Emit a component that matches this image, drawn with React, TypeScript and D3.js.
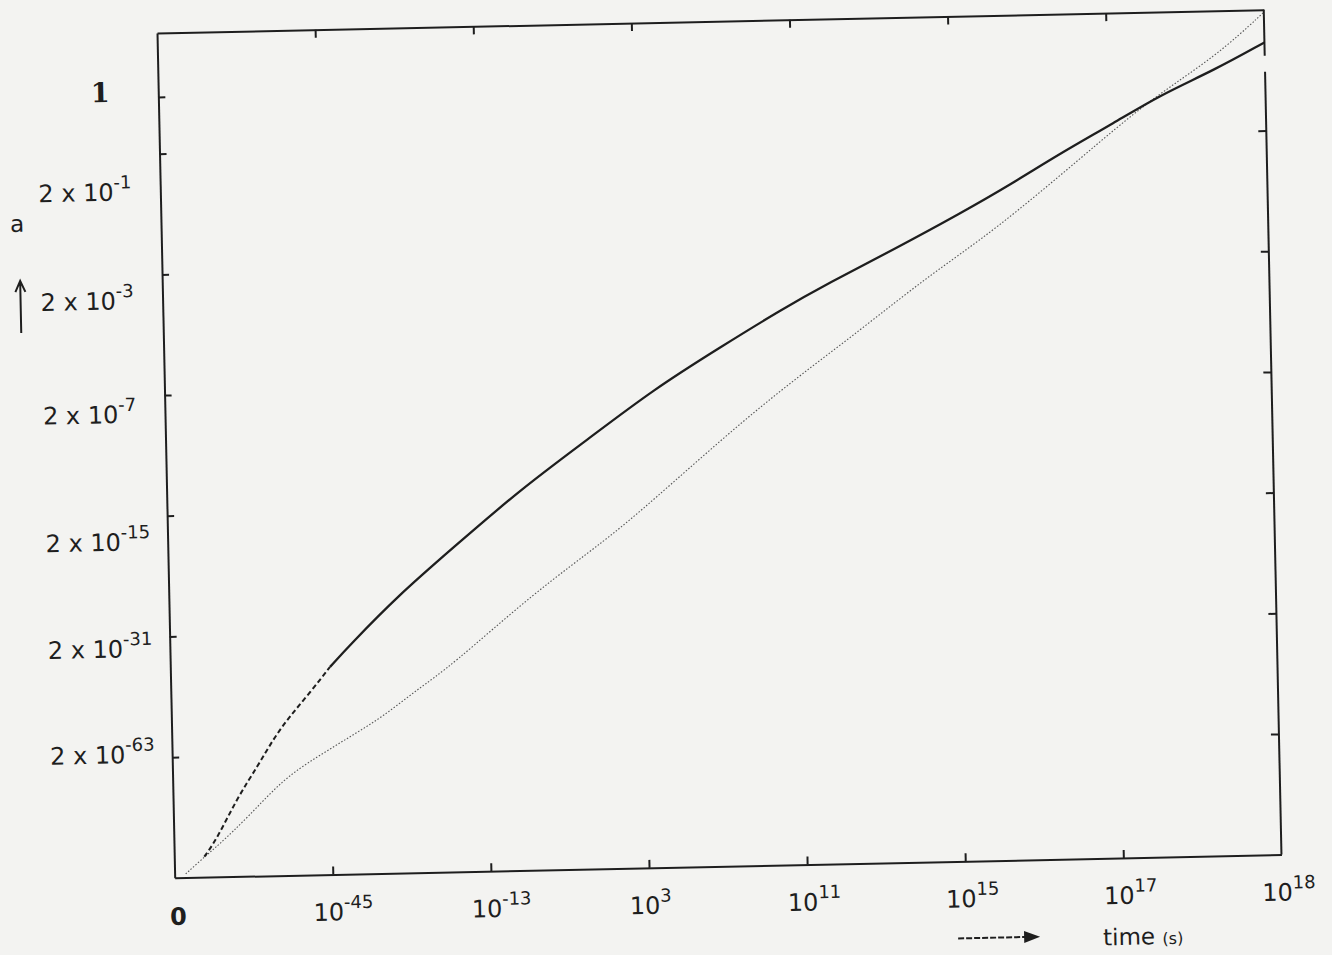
import React, { useEffect, useRef } from "react";
import * as d3 from "d3";

// time axis: "0" at the left edge, then 10^e at equally spaced positions 1..7
const timeExponents = ["-45", "-13", "3", "11", "15", "17", "18"];
// scale factor axis: 2 x 10^e at positions 1..6, "1" a bit above the last one
const aExponents = ["-63", "-31", "-15", "-7", "-3", "-1"];
const aOnePos = 6.47;

// standard evolution (solid curve), in axis units (position along time axis, position along a axis)
const stdTime = [0.19, 0.27, 0.41, 0.54, 0.64, 0.75, 0.88, 1.01, 1.14, 1.46, 1.79, 2.24, 2.67, 3.09, 3.52, 3.91, 4.21, 4.63, 5.06, 5.38, 5.70, 6.04, 6.33, 6.68, 7.0];
const stdA = [0.17, 0.31, 0.66, 0.91, 1.13, 1.32, 1.51, 1.72, 1.90, 2.31, 2.67, 3.16, 3.56, 3.96, 4.30, 4.60, 4.81, 5.08, 5.37, 5.60, 5.85, 6.09, 6.31, 6.51, 6.73];
const stdBrokenUntil = 7; // the early part of the solid curve is printed broken

// coasting evolution (dotted curve)
const linTime = [0.07, 0.21, 0.27, 0.48, 0.70, 0.92, 1.13, 1.34, 1.56, 1.77, 2.31, 2.78, 3.08, 3.51, 3.90, 4.41, 4.84, 5.27, 5.83, 6.26, 6.69, 7.0];
const linA = [0.03, 0.19, 0.25, 0.50, 0.80, 0.98, 1.14, 1.30, 1.52, 1.70, 2.30, 2.73, 3.05, 3.53, 3.94, 4.42, 4.85, 5.22, 5.81, 6.27, 6.62, 6.98];

// layout
const W = 1107;
const H = 845;
const aLabelShift = [5, 20, 34, 27, 34, 46]; // labels sit a little below their ticks in the scan
const ink = "#1e1e1e";
const sans = "'DejaVu Sans', sans-serif";

export default function App() {
  const svgRef = useRef(null);

  useEffect(() => {
    const svgEl = d3.select(svgRef.current);
    svgEl.selectAll("*").remove();

    svgEl.append("rect").attr("width", 1332).attr("height", 955).attr("fill", "#f3f3f1");

    // the scanned page is slightly tilted
    const g = svgEl.append("g").attr("transform", "translate(157,33) rotate(-1.2)");

    const x = d3.scaleLinear().domain([0, 7]).range([0, W]);
    const y = d3.scaleLinear().domain([0, 7]).range([H, 0]);

    const inner = d3.range(1, 7);

    const styleAxis = (sel) => {
      sel.selectAll("path, line").attr("stroke", ink).attr("stroke-width", 2);
      sel.selectAll("text").remove();
    };

    g.append("g")
      .attr("transform", `translate(0,${H})`)
      .call(d3.axisTop(x).tickValues(inner).tickSize(8).tickSizeOuter(0).tickFormat(() => ""))
      .call(styleAxis);
    g.append("g")
      .call(d3.axisBottom(x).tickValues(inner).tickSize(8).tickSizeOuter(0).tickFormat(() => ""))
      .call(styleAxis);
    g.append("g")
      .call(d3.axisRight(y).tickValues([...inner, aOnePos]).tickSize(7).tickSizeOuter(0).tickFormat(() => ""))
      .call(styleAxis);
    const right = g.append("g")
      .attr("transform", `translate(${W},0)`)
      .call(d3.axisLeft(y).tickValues(inner).tickSize(8).tickSizeOuter(0).tickFormat(() => ""))
      .call(styleAxis);
    right.select(".domain").remove();
    // right edge has a small break near the top
    [[0, 46], [62, H]].forEach(([y0, y1]) => {
      right.append("line").attr("y1", y0).attr("y2", y1).attr("stroke", ink).attr("stroke-width", 2);
    });

    // curves
    const line = d3.line().x(d => x(d[0])).y(d => y(d[1])).curve(d3.curveBasis);
    const std = stdTime.map((t, i) => [t, stdA[i]]);
    const lin = linTime.map((t, i) => [t, linA[i]]);

    g.append("path")
      .attr("d", line(lin))
      .attr("fill", "none")
      .attr("stroke", "#555")
      .attr("stroke-width", 1.1)
      .attr("stroke-dasharray", "1.5 1.8");
    g.append("path")
      .attr("d", line(std.slice(0, stdBrokenUntil + 1)))
      .attr("fill", "none")
      .attr("stroke", ink)
      .attr("stroke-width", 2)
      .attr("stroke-dasharray", "5 3");
    g.append("path")
      .attr("d", line(std.slice(stdBrokenUntil)))
      .attr("fill", "none")
      .attr("stroke", ink)
      .attr("stroke-width", 2.3);

    // a-axis labels
    aExponents.forEach((e, i) => {
      const t = g.append("text")
        .attr("x", -122)
        .attr("y", y(i + 1) + aLabelShift[i])
        .attr("font-family", sans)
        .attr("font-size", 24)
        .attr("fill", ink);
      t.append("tspan").text("2 x 10");
      t.append("tspan").attr("dy", -12).attr("font-size", 18).text(e);
    });
    g.append("text")
      .attr("x", -58)
      .attr("y", y(aOnePos) + 4)
      .attr("text-anchor", "middle")
      .attr("font-family", "'DejaVu Serif', serif")
      .attr("font-weight", "bold")
      .attr("font-size", 27)
      .attr("fill", ink)
      .text("1");

    // time-axis labels
    g.append("text")
      .attr("x", x(0) + 3)
      .attr("y", H + 47)
      .attr("text-anchor", "middle")
      .attr("font-family", sans)
      .attr("font-weight", "bold")
      .attr("font-size", 24)
      .attr("fill", ink)
      .text("0");
    timeExponents.forEach((e, i) => {
      const t = g.append("text")
        .attr("x", x(i + 1) - 20)
        .attr("y", H + 46)
        .attr("font-family", sans)
        .attr("font-size", 24)
        .attr("fill", ink);
      t.append("tspan").text("10");
      t.append("tspan").attr("dy", -12).attr("font-size", 18).text(e);
    });

    // axis names
    g.append("text")
      .attr("x", -151).attr("y", 196)
      .attr("font-family", sans).attr("font-size", 23).attr("fill", ink)
      .text("a");
    g.append("path")
      .attr("d", "M-142,297V246M-147,256L-142,245L-137,256")
      .attr("fill", "none").attr("stroke", ink).attr("stroke-width", 2);

    const tl = g.append("text")
      .attr("x", 927).attr("y", 932)
      .attr("font-family", sans).attr("font-size", 23).attr("fill", ink);
    tl.append("tspan").text("time ");
    tl.append("tspan").attr("font-size", 16).text("(s)");
    g.append("line")
      .attr("x1", 782).attr("x2", 850).attr("y1", 922).attr("y2", 922)
      .attr("stroke", ink).attr("stroke-width", 2).attr("stroke-dasharray", "6 2");
    g.append("path")
      .attr("d", "M848,916L864,922L848,928Z")
      .attr("fill", ink);
  });

  return (
    <svg
      ref={svgRef}
      width={1332}
      height={955}
      style={{ position: "absolute", left: 0, top: 0 }}
    />
  );
}
